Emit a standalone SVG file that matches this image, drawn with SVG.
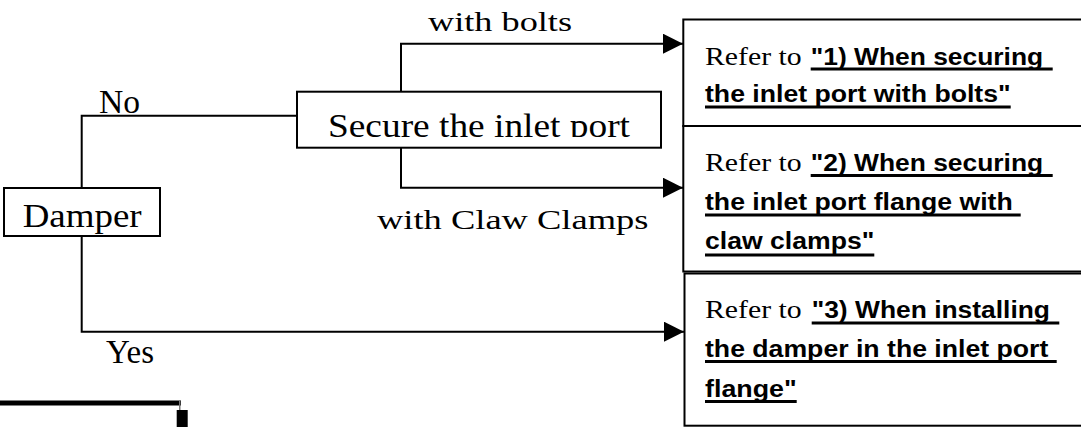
<svg xmlns="http://www.w3.org/2000/svg" width="1081" height="427" viewBox="0 0 1081 427">
<style>
.box{fill:#fff;stroke:#000;stroke-width:2}
.ln{fill:none;stroke:#000;stroke-width:2}
.ul{stroke:#000;stroke-width:3}
.big{font-family:"Liberation Serif",serif;font-size:34px;fill:#000}
.sm{font-family:"Liberation Serif",serif;font-size:28px;fill:#000}
.ref{font-family:"Liberation Serif",serif;font-size:25px;fill:#000}
.bd{font-family:"Liberation Sans",Arial,sans-serif;font-size:23px;font-weight:bold;fill:#000}
</style>
<defs>
<marker id="arr" viewBox="0 0 20 20" refX="20" refY="10" markerWidth="20" markerHeight="20" markerUnits="userSpaceOnUse" orient="auto">
<path d="M0,0 L20,10 L0,20 z" fill="#000"/>
</marker>
<clipPath id="secClip"><rect x="298" y="93" width="362" height="44"/></clipPath>
</defs>
<rect width="1081" height="427" fill="#fff"/>

<g id="connectors">
<path class="ln" d="M81.7,188 V115.7 H297"/>
<path class="ln" d="M401,92 V43.7 H683" marker-end="url(#arr)"/>
<path class="ln" d="M401,148 V187.7 H683" marker-end="url(#arr)"/>
<path class="ln" d="M81.7,236 V331.7 H684" marker-end="url(#arr)"/>
<text class="big" x="99" y="113" textLength="41" lengthAdjust="spacingAndGlyphs">No</text>
<text class="big" x="106" y="362.7" textLength="48" lengthAdjust="spacingAndGlyphs">Yes</text>
<text class="sm" x="428" y="30.7" textLength="144" lengthAdjust="spacingAndGlyphs">with bolts</text>
<text class="sm" x="377" y="229.3" textLength="271.5" lengthAdjust="spacingAndGlyphs">with Claw Clamps</text>
</g>

<g id="damper">
<rect class="box" x="4" y="188" width="156" height="48"/>
<text class="big" x="22.7" y="226.7" textLength="119" lengthAdjust="spacingAndGlyphs">Damper</text>
</g>

<g id="secure">
<rect class="box" x="297" y="91.7" width="364" height="56"/>
<text class="big" x="328" y="136.5" textLength="302" lengthAdjust="spacingAndGlyphs" clip-path="url(#secClip)">Secure the inlet port</text>
</g>

<g id="ref1">
<rect class="box" x="683.3" y="19.5" width="410" height="106.5"/>
<text class="ref" x="705" y="65" textLength="96.7" lengthAdjust="spacingAndGlyphs">Refer to</text>
<text class="bd" x="810.7" y="65" textLength="232.5" lengthAdjust="spacingAndGlyphs">"1) When securing</text>
<line class="ul" x1="810.7" y1="69" x2="1052.7" y2="69"/>
<text class="bd" x="705" y="102" textLength="305.7" lengthAdjust="spacingAndGlyphs">the inlet port with bolts"</text>
<line class="ul" x1="705" y1="107" x2="1010.7" y2="107"/>
</g>

<g id="ref2">
<rect class="box" x="683.3" y="126" width="410" height="145.5"/>
<text class="ref" x="705" y="171" textLength="96.7" lengthAdjust="spacingAndGlyphs">Refer to</text>
<text class="bd" x="810.7" y="171" textLength="232.5" lengthAdjust="spacingAndGlyphs">"2) When securing</text>
<line class="ul" x1="810.7" y1="175.5" x2="1052.7" y2="175.5"/>
<text class="bd" x="705" y="210" textLength="307.7" lengthAdjust="spacingAndGlyphs">the inlet port flange with</text>
<line class="ul" x1="705" y1="215" x2="1020.7" y2="215"/>
<text class="bd" x="705" y="249" textLength="169.3" lengthAdjust="spacingAndGlyphs">claw clamps"</text>
<line class="ul" x1="705" y1="255" x2="874.3" y2="255"/>
</g>

<g id="ref3">
<rect class="box" x="684.5" y="273.5" width="410" height="152.2"/>
<text class="ref" x="705" y="318.3" textLength="96.7" lengthAdjust="spacingAndGlyphs">Refer to</text>
<text class="bd" x="811.7" y="318.3" textLength="238.3" lengthAdjust="spacingAndGlyphs">"3) When installing</text>
<line class="ul" x1="811.7" y1="323" x2="1059.3" y2="323"/>
<text class="bd" x="705" y="357" textLength="343.3" lengthAdjust="spacingAndGlyphs">the damper in the inlet port</text>
<line class="ul" x1="705" y1="361.5" x2="1056.7" y2="361.5"/>
<text class="bd" x="705" y="397" textLength="91.7" lengthAdjust="spacingAndGlyphs">flange"</text>
<line class="ul" x1="705" y1="401.5" x2="796.7" y2="401.5"/>
</g>

<rect x="0" y="400.5" width="181" height="5" fill="#000"/>
<rect x="179" y="400.5" width="1.5" height="10" fill="#777"/>
<rect x="176.7" y="410" width="11" height="17" fill="#000"/>
</svg>
